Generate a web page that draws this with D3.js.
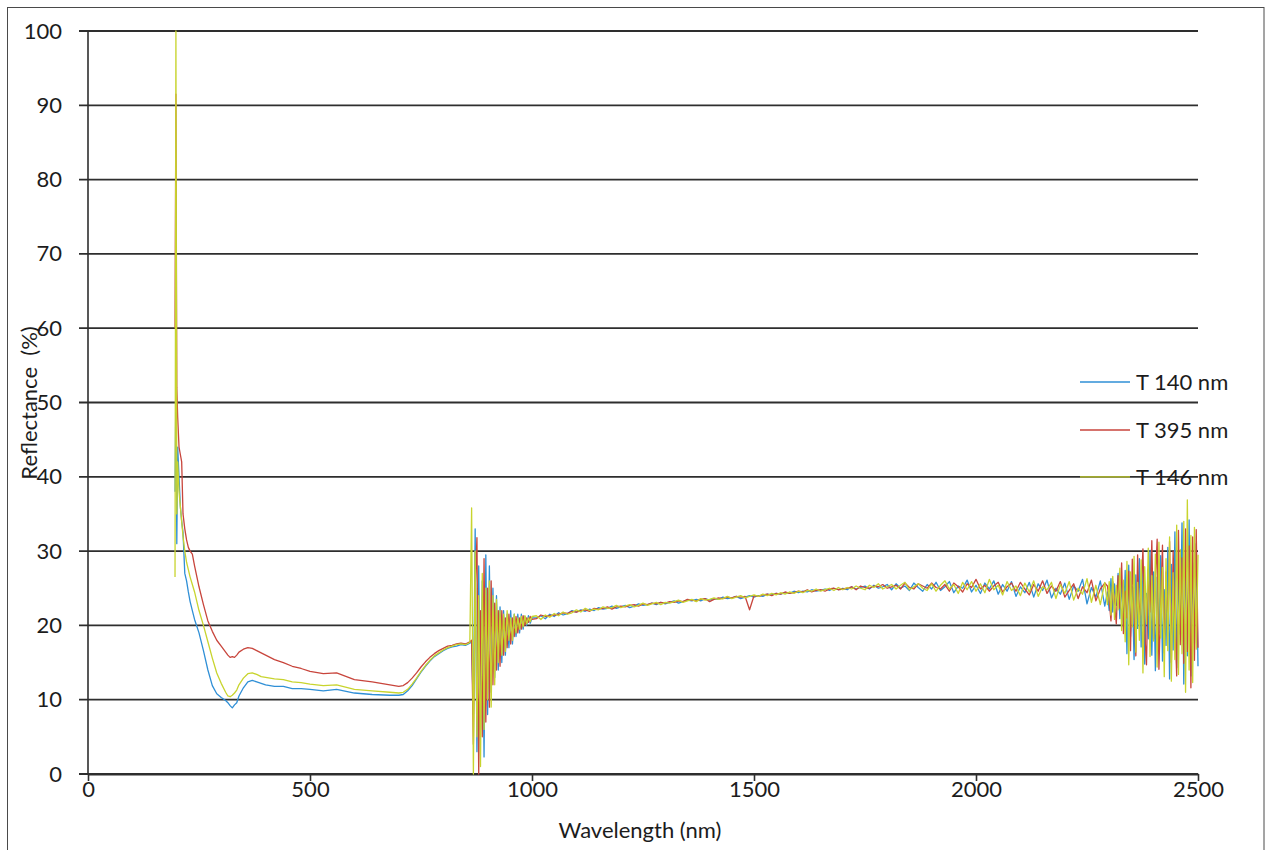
<!DOCTYPE html>
<html>
<head>
<meta charset="utf-8">
<script src="https://cdn.jsdelivr.net/npm/d3@7"></script>
<style>
  html, body { margin: 0; padding: 0; background: #fff; }
  svg { display: block; font-family: Lato, "Open Sans", sans-serif; }
</style>
</head>
<body>
<svg id="chart" width="1266" height="850"></svg>
<script>
// Wavelength sampling (nm): irregular UV/visible part, then the detector's fixed steps
const wavelengthVisible = [196, 198, 200, 202, 205, 208, 211, 214, 218, 222,
  226, 230, 235, 240, 250, 260, 270, 280, 290, 300,
  310, 315, 320, 325, 330, 335, 340, 350, 360, 370,
  380, 390, 400, 420, 440, 460, 480, 500, 530, 560,
  600, 640, 680, 700, 710, 720, 730, 740, 750, 760,
  770, 780, 790, 800, 810, 820, 830, 840, 850, 860];
const wavelengthSwitch = d3.range(864, 1001, 4);   // detector changeover
const wavelengthNir = d3.range(1010, 2291, 10);
const wavelengthTail = d3.range(2296, 2501, 4);
const wavelength = [...wavelengthVisible, ...wavelengthSwitch, ...wavelengthNir, ...wavelengthTail];

// Reflectance (%) per sample
const t140 = [
  38, 52, 31, 44, 40, 36, 34, 32.5, 27, 26,
  24.5, 23.2, 22, 20.8, 19, 16.6, 14, 11.9, 10.8, 10.3,
  9.9, 9.6, 9.2, 8.9, 9.3, 9.6, 10.5, 11.6, 12.4, 12.6,
  12.4, 12.2, 12.0, 11.8, 11.8, 11.5, 11.5, 11.4, 11.2, 11.4,
  10.9, 10.7, 10.6, 10.6, 10.7, 11.2, 11.9, 12.8, 13.7, 14.5,
  15.2, 15.8, 16.2, 16.6, 16.9, 17.1, 17.2, 17.4, 17.3, 17.6,
  // 864-1000
  17.8, 8, 33, 3, 28, 6, 26, 2.3, 29.5, 8,
  28, 11, 25, 13, 24, 14, 22.5, 15, 22, 16,
  21.5, 17, 22, 17.5, 21.5, 18.5, 21.5, 19, 21.5, 19.5,
  21.2, 20, 21.3, 20.3, 21,
  // 1010-2290
  21.0, 21.3, 20.9, 21.5, 21.2, 21.7, 21.4, 21.6, 22.0, 21.8,
  22.1, 21.9, 22.2, 22.0, 22.4, 22.2, 22.3, 22.6, 22.3, 22.5,
  22.7, 22.4, 22.6, 22.9, 22.7, 22.8, 23.0, 22.8, 23.1, 22.9,
  23.1, 23.3, 23.0, 23.2, 23.4, 23.3, 23.5, 23.3, 23.6, 23.4,
  23.6, 23.5, 23.8, 23.6, 23.7, 23.9, 23.6, 23.8, 24.0, 23.8,
  24.0, 23.9, 24.2, 24.1, 24.3, 24.2, 24.4, 24.3, 24.6, 24.4,
  24.6, 24.5, 24.8, 24.6, 24.7, 24.9, 24.7, 25.0, 24.8, 25.0,
  24.8, 25.2, 24.9, 25.1, 25.3, 24.9, 25.4, 25.0, 25.2, 25.5,
  24.8, 25.6, 25.0, 25.3, 24.7, 25.7, 25.1, 24.6, 25.5, 24.9,
  25.8, 24.7, 25.2, 25.9, 24.4, 25.3, 25.0, 26.1, 24.5, 25.4,
  24.3, 25.7, 24.9, 26.0, 24.2, 25.5, 24.6, 25.9, 23.9, 25.2,
  24.4, 25.8, 23.8, 25.6, 24.7, 26.1, 23.7, 25.0, 24.2, 25.7,
  23.5, 25.3, 24.6, 26.2, 22.9, 25.1, 23.8, 26.0, 22.6,
  // 2296-2500
  24.5, 22.0, 26.3, 21.8, 25.6, 22.7, 27.0, 20.9, 25.9, 19.8,
  27.4, 16.2, 28.1, 18.5, 25.2, 15.4, 26.8, 19.6, 29.0, 17.1,
  27.5, 14.8, 24.3, 18.2, 30.1, 16.0, 27.2, 13.9, 26.5, 19.0,
  29.4, 15.2, 24.8, 17.3, 30.5, 12.8, 28.2, 16.7, 32.6, 14.3,
  26.9, 18.8, 33.8, 12.1, 29.7, 15.9, 34.2, 13.2, 28.4, 17.6,
  31.0, 14.5
];

const t395 = [
  60, 91.5, 52, 48, 44, 43, 42, 35, 33, 31.5,
  30.5, 30, 29.6, 28, 25.2, 22.8, 20.6, 19.2, 18, 17.2,
  16.4, 16.0, 15.7, 15.8, 15.7, 16.0, 16.4, 16.8, 17.0, 16.9,
  16.6, 16.3, 16.0, 15.4, 15.0, 14.5, 14.2, 13.8, 13.5, 13.6,
  12.7, 12.4, 12.0, 11.8, 11.9, 12.3, 12.9, 13.6, 14.4, 15.1,
  15.7, 16.2, 16.6, 16.9, 17.2, 17.3, 17.5, 17.6, 17.5, 17.8,
  // 864-1000
  18, 4, 25, 31.8, 0, 22, 5, 29, 7, 25,
  9, 26, 12, 23, 14, 22, 14.5, 22, 16, 21,
  17, 21.5, 17.5, 21, 18.5, 21.2, 19, 21, 19.5, 21.3,
  20, 21, 20.4, 21.2, 20.8,
  // 1010-2290
  20.9, 21.4, 21.2, 21.3, 21.4, 21.5, 21.7, 21.6, 21.9, 21.8,
  22.0, 22.1, 21.9, 22.3, 22.2, 22.3, 22.5, 22.2, 22.5, 22.6,
  22.5, 22.7, 22.8, 22.6, 22.9, 22.8, 23.0, 22.9, 23.1, 23.0,
  23.2, 23.1, 23.3, 23.2, 23.5, 23.4, 23.3, 23.5, 23.6, 23.2,
  23.5, 23.7, 23.6, 23.8, 23.7, 23.9, 23.8, 23.9, 22.1, 24.0,
  23.9, 24.1, 24.2, 24.0, 24.3, 24.2, 24.5, 24.3, 24.4, 24.6,
  24.5, 24.8, 24.5, 24.7, 24.8, 24.6, 24.9, 25.0, 24.8, 24.9,
  25.0, 25.2, 24.8, 25.3, 25.1, 25.0, 25.3, 25.2, 25.5, 25.0,
  25.2, 25.4, 24.9, 25.7, 25.1, 24.9, 25.6, 25.3, 25.0, 25.7,
  25.1, 24.9, 25.5, 24.6, 25.7, 25.2, 24.5, 25.6, 25.1, 26.2,
  24.9, 25.4, 24.6, 25.3, 25.8, 24.5, 25.2, 25.7, 24.6, 25.8,
  24.9, 24.1, 25.5, 24.6, 26.0, 24.3, 25.3, 24.6, 25.9, 23.8,
  24.7, 25.6, 23.6, 25.2, 24.4, 26.1, 23.3, 24.9, 25.7,
  // 2296-2500
  25.3, 23.4, 20.6, 25.9, 23.0, 20.2, 26.7, 22.3, 28.4, 18.9,
  24.6, 21.0, 27.3, 16.6, 28.9, 21.9, 15.9, 29.5, 20.4, 24.9,
  30.3, 19.1, 14.7, 27.6, 21.8, 31.4, 18.2, 25.7, 31.6, 14.1,
  22.9, 30.8, 16.3, 27.2, 19.5, 31.3, 15.0, 30.0, 20.7, 13.2,
  32.8, 17.4, 29.1, 14.9, 33.0, 16.5, 30.7, 11.6, 31.9, 15.3,
  32.9, 17.0
];

const t146 = [
  26.5, 100, 35, 42, 38, 36, 34, 32, 30, 28.5,
  27.5, 26.5, 25.5, 24.5, 22, 20, 17.8, 15.6, 13.6, 12.2,
  11, 10.5, 10.4, 10.6, 10.9, 11.3, 12.0, 12.9, 13.5, 13.6,
  13.4, 13.1, 13.0, 12.8, 12.7, 12.4, 12.3, 12.1, 11.9, 12.0,
  11.4, 11.2, 11.0, 10.9, 11.0, 11.4, 12.1, 12.9, 13.8, 14.6,
  15.3, 15.9, 16.3, 16.7, 17.0, 17.2, 17.4, 17.5, 17.4, 17.7,
  // 864-1000
  35.8, 0, 30, 5, 24, 1, 27, 6, 25, 10,
  26, 9, 24, 12, 23.5, 15, 22, 16, 21.5, 16.5,
  22, 18, 21, 18, 21.5, 19, 21, 19.5, 21.2, 19.8,
  21.3, 20.2, 21, 20.5, 21.2,
  // 1010-2290
  21.3, 20.8, 21.4, 21.1, 21.6, 21.3, 21.8, 21.5, 21.7, 22.1,
  21.8, 22.3, 22.0, 22.2, 22.1, 22.5, 22.3, 22.4, 22.7, 22.4,
  22.6, 22.8, 22.5, 22.7, 23.0, 22.7, 22.9, 23.1, 22.8, 23.1,
  23.0, 23.2, 23.4, 23.1, 23.3, 23.5, 23.2, 23.6, 23.4, 23.5,
  23.7, 23.5, 23.6, 23.9, 23.6, 23.8, 24.0, 23.7, 23.9, 24.1,
  23.9, 24.2, 24.0, 24.3, 24.1, 24.4, 24.2, 24.5, 24.3, 24.6,
  24.4, 24.7, 24.6, 24.9, 24.6, 24.8, 25.0, 24.7, 25.1, 24.8,
  25.1, 24.9, 25.3, 25.0, 24.8, 25.4, 25.1, 25.6, 24.9, 25.2,
  25.5, 24.9, 25.4, 25.8, 24.8, 25.2, 25.6, 25.0, 24.7, 25.6,
  24.6, 25.4, 26.0, 24.9, 25.5, 24.3, 25.8, 24.8, 25.9, 24.6,
  25.6, 24.4, 26.2, 24.8, 25.4, 24.1, 25.9, 24.7, 25.3, 24.0,
  25.7, 24.5, 26.0, 23.9, 25.2, 24.8, 25.8, 23.6, 25.5, 24.3,
  25.9, 23.4, 25.0, 24.2, 26.3, 23.1, 25.4, 22.8, 25.8,
  // 2296-2500
  22.8, 25.9, 21.4, 26.6, 20.8, 25.4, 22.1, 27.7, 19.3, 26.1,
  17.8, 28.6, 14.7, 27.2, 19.8, 29.3, 16.4, 25.8, 18.0, 28.8,
  13.6, 27.9, 20.2, 30.4, 15.8, 26.7, 17.9, 29.6, 14.4, 31.2,
  18.3, 27.8, 13.1, 29.0, 16.6, 31.9, 12.5, 27.1, 15.4, 33.5,
  13.4, 30.2, 16.2, 34.0, 11.0, 36.9, 14.0, 32.1, 12.3, 33.2,
  16.8, 29.5
];

const seriesNames = ["T 140 nm", "T 395 nm", "T 146 nm"];
const seriesValues = [t140, t395, t146];
const xTickValues = [0, 500, 1000, 1500, 2000, 2500];
const yTickValues = [0, 10, 20, 30, 40, 50, 60, 70, 80, 90, 100];

// styling
const lineColors = ["#2f8fd6", "#c8453c", "#c8d42e"];
const inkColor = "#1c1c1c";
const gridColor = "#2e2e2e";
const fontStack = 'Lato, "Open Sans", sans-serif';

const svg = d3.select("#chart");
const margin = { left: 88, right: 68, top: 31, bottom: 76 };
const W = 1266, H = 850;
const plotW = W - margin.left - margin.right;
const plotH = H - margin.top - margin.bottom;

const x = d3.scaleLinear().domain([0, 2500]).range([0, plotW]);
const y = d3.scaleLinear().domain([0, 100]).range([plotH, 0]);

// outer chart frame
svg.append("rect")
  .attr("x", 7.5).attr("y", 7.5)
  .attr("width", 1256.5).attr("height", 900)
  .attr("fill", "#fff").attr("stroke", "#4a4a4a").attr("stroke-width", 1);

const g = svg.append("g").attr("transform", `translate(${margin.left},${margin.top})`);

// legend (placed under the grid so the 40 % line runs across the last key)
const legend = svg.append("g");
const legendRows = [382, 430, margin.top + y(40)];
seriesNames.forEach((name, i) => {
  legend.append("line")
    .attr("x1", 1080).attr("x2", 1130)
    .attr("y1", legendRows[i]).attr("y2", legendRows[i])
    .attr("stroke", lineColors[i]).attr("stroke-width", 1.3);
  legend.append("text")
    .attr("x", 1136).attr("y", legendRows[i])
    .attr("dy", "0.36em")
    .attr("font-size", 22)
    .attr("fill", inkColor)
    .text(name);
});

// horizontal gridlines, extended left of the axis as tick marks
g.append("g").selectAll("line")
  .data(yTickValues)
  .join("line")
  .attr("x1", -9).attr("x2", x(2500))
  .attr("y1", d => y(d)).attr("y2", d => y(d))
  .attr("stroke", gridColor).attr("stroke-width", 1.8);

// vertical axis line
g.append("line")
  .attr("x1", x(0)).attr("x2", x(0))
  .attr("y1", y(0)).attr("y2", y(100))
  .attr("stroke", gridColor).attr("stroke-width", 1.6);

// y tick labels
const yAxis = g.append("g")
  .call(d3.axisLeft(y).tickValues(yTickValues).tickFormat(d3.format("d")).tickSize(0).tickPadding(26));
yAxis.attr("font-family", fontStack).attr("font-size", 22);
yAxis.select(".domain").remove();
yAxis.selectAll("text").attr("fill", inkColor);

// x axis with outward ticks
const xAxis = g.append("g")
  .attr("transform", `translate(0,${plotH})`)
  .call(d3.axisBottom(x).tickValues(xTickValues).tickFormat(d3.format("d"))
    .tickSizeInner(7).tickSizeOuter(0).tickPadding(0));
xAxis.attr("font-family", fontStack).attr("font-size", 22);
xAxis.select(".domain").attr("stroke", gridColor).attr("stroke-width", 1.8);
xAxis.selectAll(".tick line").attr("stroke", gridColor).attr("stroke-width", 1.6);
xAxis.selectAll("text").attr("fill", inkColor);

// spectra
const line = d3.line()
  .defined(d => d[1] != null)
  .x(d => x(d[0]))
  .y(d => y(d[1]));

seriesValues.forEach((vals, i) => {
  g.append("path")
    .datum(d3.zip(wavelength, vals))
    .attr("fill", "none")
    .attr("stroke", lineColors[i])
    .attr("stroke-width", 1.3)
    .attr("stroke-linejoin", "round")
    .attr("d", line);
});

// axis titles
svg.append("text")
  .attr("x", 640).attr("y", 838)
  .attr("text-anchor", "middle")
  .attr("font-size", 22).attr("fill", inkColor)
  .text("Wavelength (nm)");

svg.append("text")
  .attr("transform", "translate(37,403) rotate(-90)")
  .attr("text-anchor", "middle")
  .attr("font-size", 22).attr("fill", inkColor)
  .style("white-space", "pre")
  .text("Reflectance  (%)");
</script>
</body>
</html>
